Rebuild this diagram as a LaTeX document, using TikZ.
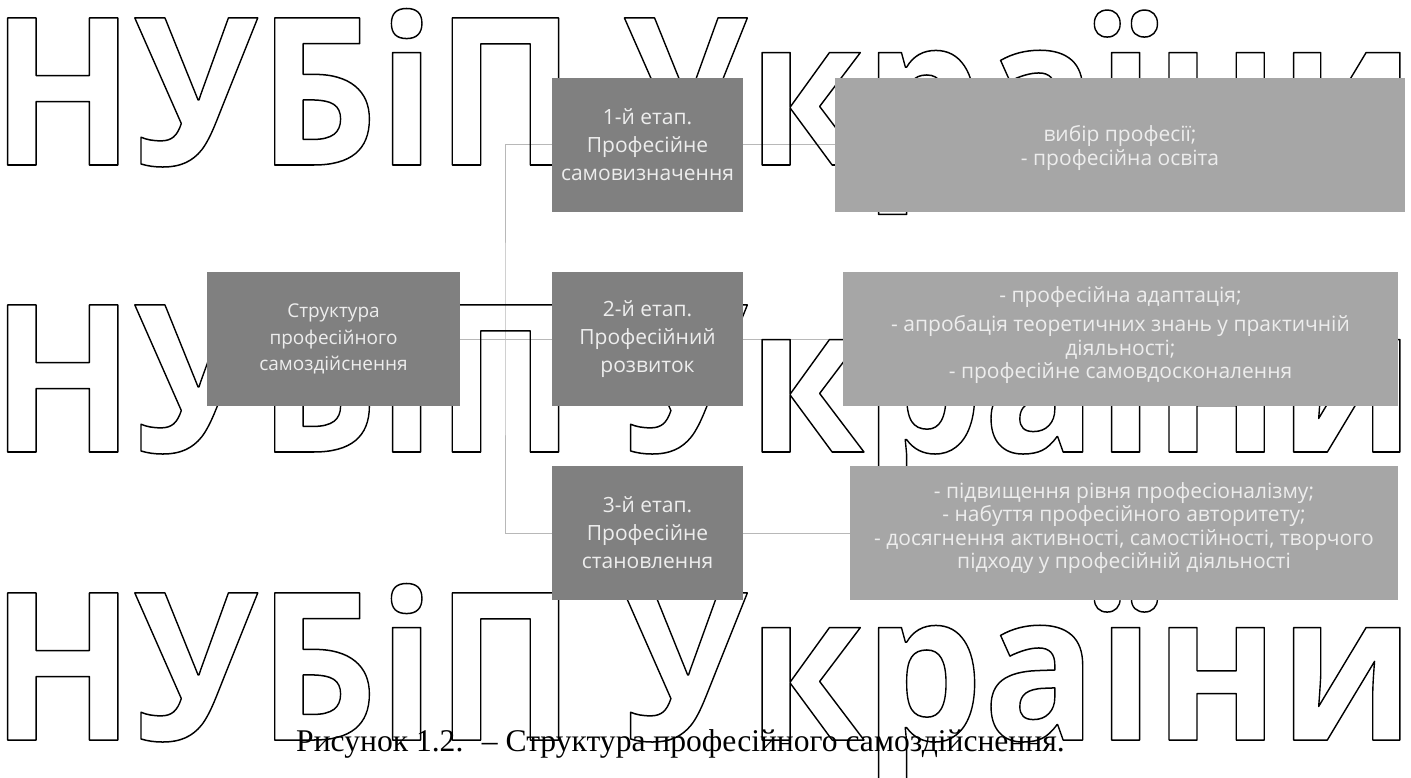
\documentclass[tikz,border=0pt]{standalone}
\usepackage{fontspec}
\usepackage{graphicx}
\setmainfont{Open Sans}
\newfontfamily\wmfont{Open Sans}
\newfontfamily\capfont{Liberation Serif}
\definecolor{boxdark}{HTML}{808080}
\definecolor{boxlight}{HTML}{A6A6A6}
\definecolor{connclr}{HTML}{B8B8B8}
\definecolor{boxtext}{HTML}{EDEDED}
\newcommand{\outlinetext}[1]{\special{pdf:literal direct 1.5 w 1 j 1 Tr}#1\special{pdf:literal direct 0 Tr}}
\newsavebox\wmbox
\newlength\wmwd
\begin{document}
\sbox\wmbox{\wmfont\bfseries\fontsize{206}{206}\selectfont\outlinetext{НУБіП України}}%
\setlength\wmwd{\wd\wmbox}%
\begin{tikzpicture}[x=1pt,y=-1pt,
  box/.style={draw=none, text=boxtext, align=center, inner sep=0pt},
  mainbox/.style={box, fill=boxdark, minimum width=253pt, minimum height=134pt, font=\fontsize{19}{26.5}\selectfont},
  stagebox/.style={box, fill=boxdark, minimum width=191pt, minimum height=134pt, font=\fontsize{21}{28}\selectfont},
  infobox/.style={box, fill=boxlight, minimum height=134pt, font=\fontsize{21}{23.5}\selectfont},
  infotext/.style={box, fill=none, font=\fontsize{21}{23.5}\selectfont},
  conn/.style={draw=connclr, line width=1pt},
  wm/.style={anchor=base west, inner sep=0pt}
]
\useasboundingbox (0,0) rectangle (1411,778);
\fill[white] (0,0) rectangle (1411,778);
\pgfmathsetmacro\wmsx{1393/(\wmwd-34)}
\pgfmathsetmacro\wmx{7-18*\wmsx}

% caption
\node[anchor=base west, inner sep=0pt, font=\capfont\fontsize{31.6}{36}\selectfont] (cap) at (296,751)
  {Рисунок 1.2. \ – Структура професійного самоздійснення.};

% node placeholders for connectors (boxes drawn later on top)
\path (333.5,339) node[mainbox, fill=none] (main) {};
\path (647.5,145) node[stagebox, fill=none] (s1) {};
\path (647.5,339) node[stagebox, fill=none] (s2) {};
\path (647.5,533) node[stagebox, fill=none] (s3) {};
\path (1120,145) node[infobox, fill=none, minimum width=570pt] (r1) {};
\path (1120.5,339) node[infobox, fill=none, minimum width=555pt] (r2) {};
\path (1124,533) node[infobox, fill=none, minimum width=548pt] (r3) {};
\coordinate (j) at (505,339);

% connectors
\draw[conn] (main.east) -- (s2.west);
\draw[conn] (s1.west) -| (j) |- (s3.west);
\draw[conn] (s1.east) -- (r1.west);
\draw[conn] (s2.east) -- (r2.west);
\draw[conn] (s3.east) -- (r3.west);

% watermark
\node[wm] (wm1) at (\wmx,165) {\scalebox{\wmsx}[1]{\usebox\wmbox}};
\node[wm] (wm2) at (\wmx,452) {\scalebox{\wmsx}[1]{\usebox\wmbox}};
\node[wm] (wm3) at (\wmx,740) {\scalebox{\wmsx}[1]{\usebox\wmbox}};

% boxes
\node[mainbox] (mainb) at (main) {Структура\\професійного\\самоздійснення};
\node[stagebox] (s1b) at (s1) {1-й етап.\\Професійне\\самовизначення};
\node[stagebox] (s2b) at (s2) {2-й етап.\\Професійний\\розвиток};
\node[stagebox] (s3b) at (s3) {3-й етап.\\Професійне\\становлення};
\fill[boxlight] (r1.north west) rectangle (r1.south east);
\fill[boxlight] (r2.north west) rectangle (r2.south east);
\fill[boxlight] (r3.north west) rectangle (r3.south east);
\node[infotext] (r1t) at ([yshift=-3pt]r1.center) {вибір професії;\\- професійна освіта};
\node[infotext] (r2t) at ([yshift=4pt]r2.center) {- професійна адаптація;\\[6pt]- апробація теоретичних знань у практичній\\діяльності;\\- професійне самовдосконалення};
\node[infotext] (r3t) at ([yshift=5pt]r3.center) {- підвищення рівня професіоналізму;\\- набуття професійного авторитету;\\- досягнення активності, самостійності, творчого\\підходу у професійній діяльності};
\end{tikzpicture}
\end{document}
